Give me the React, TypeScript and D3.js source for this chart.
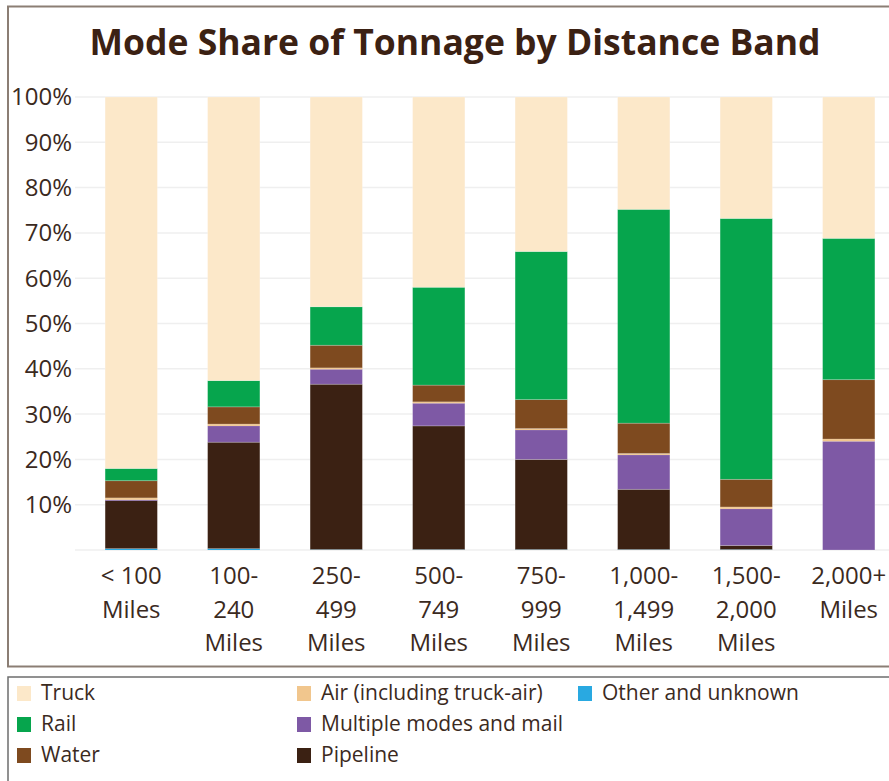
import React from "react";
import * as d3 from "d3";

// distance bands, each label broken into lines
const bands = ["<100", "100-240", "250-499", "500-749", "750-999", "1000-1499", "1500-2000", "2000+"];
const bandLabels = [
  ["< 100", "Miles"],
  ["100-", "240", "Miles"],
  ["250-", "499", "Miles"],
  ["500-", "749", "Miles"],
  ["750-", "999", "Miles"],
  ["1,000-", "1,499", "Miles"],
  ["1,500-", "2,000", "Miles"],
  ["2,000+", "Miles"],
];

// mode share in percent, one value per band
const other = [0.3, 0.3, 0.1, 0.1, 0.1, 0.1, 0.1, 0.0];
const pipeline = [10.6, 23.5, 36.5, 27.3, 19.9, 13.3, 0.9, 0.0];
const multiple = [0.2, 3.6, 3.3, 5.0, 6.5, 7.6, 8.1, 24.0];
const air = [0.4, 0.4, 0.3, 0.3, 0.3, 0.3, 0.4, 0.5];
const water = [3.8, 3.8, 5.0, 3.7, 6.4, 6.7, 6.1, 13.1];
const rail = [2.7, 5.8, 8.5, 21.6, 32.7, 47.2, 57.6, 31.2];
const truck = [82.0, 62.6, 46.3, 42.0, 34.1, 24.8, 26.8, 31.2];

const yTicks = [10, 20, 30, 40, 50, 60, 70, 80, 90, 100];

const modes = [
  { key: "other", name: "Other and unknown", color: "#29a9e1", values: other },
  { key: "pipeline", name: "Pipeline", color: "#3b2113", values: pipeline },
  { key: "multiple", name: "Multiple modes and mail", color: "#7e59a5", values: multiple },
  { key: "air", name: "Air (including truck-air)", color: "#f1c68d", values: air },
  { key: "water", name: "Water", color: "#7e4a1f", values: water },
  { key: "rail", name: "Rail", color: "#06a54d", values: rail },
  { key: "truck", name: "Truck", color: "#fce8c9", values: truck },
];

const legendCols = [
  ["truck", "rail", "water"],
  ["air", "multiple", "pipeline"],
  ["other"],
];

const W = 889;
const H = 781;
const font = "'Open Sans', 'Noto Sans', sans-serif";
const textColor = "#3b2a1e";

export default function App() {
  const x = d3.scaleBand().domain(bands).range([80, 900]).paddingInner(0.49).paddingOuter(0.245);
  const y = d3.scaleLinear().domain([0, 100]).range([550, 97]);

  const rows = bands.map((b, i) => {
    const r: any = { band: b };
    modes.forEach((m) => (r[m.key] = m.values[i]));
    return r;
  });
  const series = d3.stack().keys(modes.map((m) => m.key))(rows);
  const colorOf = (k: string) => modes.find((m) => m.key === k)!.color;

  return (
    <svg width={W} height={H} style={{ position: "absolute", left: 0, top: 0, background: "#fff" }} fontFamily={font}>
      {/* chart frame */}
      <rect x={8} y={6.5} width={W + 10} height={660} fill="none" stroke="#8b7e74" strokeWidth={2} />
      <text x={455} y={55} textAnchor="middle" fontSize={35.5} fontWeight={700} fill="#3b2113">
        Mode Share of Tonnage by Distance Band
      </text>

      {/* grid */}
      {[0, ...yTicks].map((t) => (
        <line key={t} x1={75} x2={W} y1={y(t)} y2={y(t)} stroke="#efefef" strokeWidth={1.5} />
      ))}
      {yTicks.map((t) => (
        <text key={t} x={72} y={y(t)} dy="0.35em" textAnchor="end" fontSize={24} fill={textColor}>
          {t}%
        </text>
      ))}

      {/* bars */}
      {series.map((s) => (
        <g key={s.key} fill={colorOf(s.key)}>
          {s.map((d, i) => {
            const h = y(d[0]) - y(d[1]);
            if (h <= 0) return null;
            return (
              <rect
                key={i}
                x={x(bands[i])}
                y={y(d[1])}
                width={x.bandwidth()}
                height={h}
                stroke={h > 3 ? "#ffffff" : "none"}
                strokeOpacity={0.25}
                strokeWidth={0.8}
              />
            );
          })}
        </g>
      ))}

      {/* x labels */}
      {bands.map((b, i) => (
        <text key={b} textAnchor="middle" fontSize={24} fill={textColor}>
          {bandLabels[i].map((l, j) => (
            <tspan key={j} x={x(b)! + x.bandwidth() / 2} y={584 + j * 33.5}>
              {l}
            </tspan>
          ))}
        </text>
      ))}

      {/* legend */}
      <rect x={8} y={677} width={W + 10} height={120} fill="none" stroke="#6e6e6e" strokeWidth={1.5} />
      {legendCols.map((col, ci) =>
        col.map((k, ri) => {
          const m = modes.find((mm) => mm.key === k)!;
          const lx = [17, 297, 578][ci];
          const ly = 693 + ri * 31;
          return (
            <g key={k}>
              <rect x={lx} y={ly - 7} width={14} height={15} fill={m.color} />
              <text x={lx + 24} y={ly} dy="0.35em" fontSize={21} fill={textColor}>
                {m.name}
              </text>
            </g>
          );
        })
      )}
    </svg>
  );
}
